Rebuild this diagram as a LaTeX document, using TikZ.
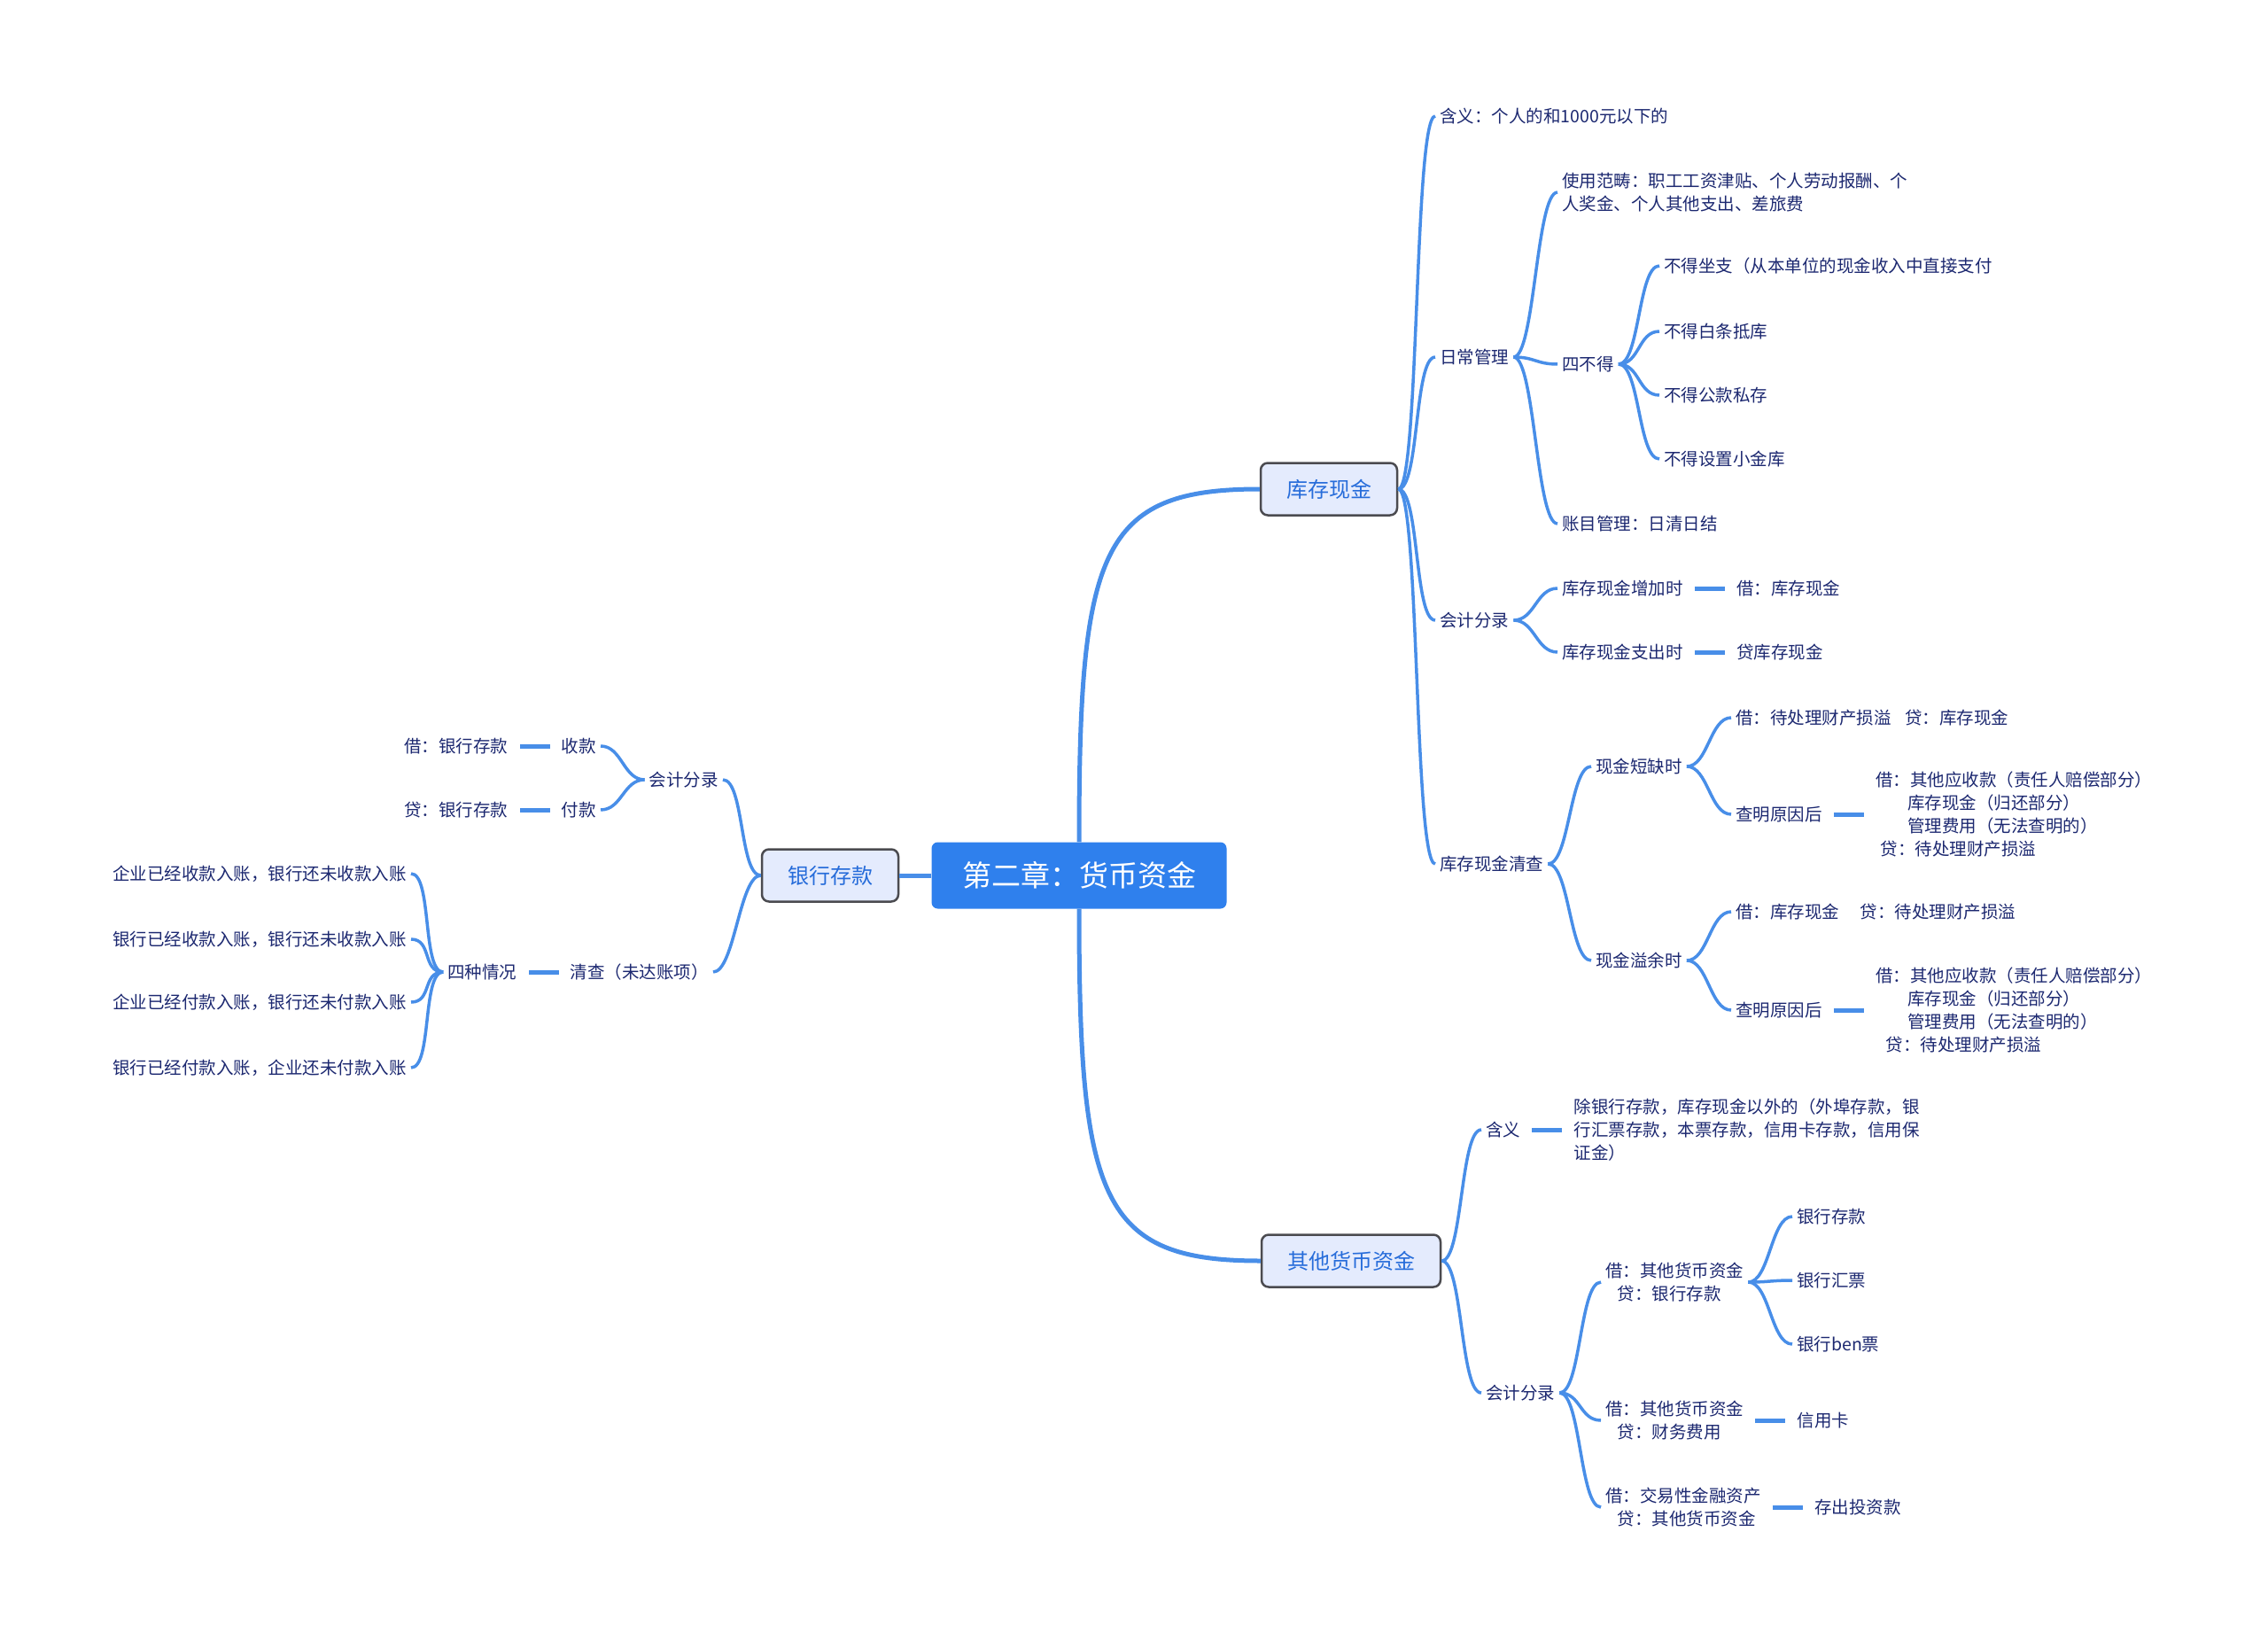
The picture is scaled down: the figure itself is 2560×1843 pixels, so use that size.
\documentclass[tikz,border=0pt]{standalone}
\usepackage{fontspec}
\newfontfamily\cjk{Noto Sans CJK SC}
\usetikzlibrary{positioning}

\definecolor{rootblue}{RGB}{47,128,237}
\definecolor{topicfill}{RGB}{228,235,253}
\definecolor{topicedge}{RGB}{75,75,80}
\definecolor{topictext}{RGB}{38,108,218}
\definecolor{linkblue}{RGB}{72,142,232}
\definecolor{leaftext}{RGB}{28,40,112}

\begin{document}
\begin{tikzpicture}[x=1pt,y=-1pt,node distance=50pt,
root node/.style={rectangle,rounded corners=7pt,fill=rootblue,text=white,font=\cjk\fontsize{33}{40}\selectfont,minimum width=333pt,minimum height=75pt},
topic node/.style={rectangle,rounded corners=8pt,draw=topicedge,line width=2.5pt,fill=topicfill,text=topictext,font=\cjk\fontsize{24}{29}\selectfont,minimum height=59pt,inner xsep=29pt},
leaf/.style={inner xsep=5pt,inner ysep=2pt,text=leaftext,font=\cjk\fontsize{19.5}{26}\selectfont,align=left},
trunk/.style={draw=linkblue,line width=5pt},
rb/.style={draw=linkblue,line width=3.5pt,to path={.. controls +(24,0) and +(-24,0) .. (\tikztotarget)}},
lb/.style={draw=linkblue,line width=3.5pt,to path={.. controls +(-24,0) and +(24,0) .. (\tikztotarget)}},
stub/.style={draw=linkblue,line width=5pt,shorten <=8pt,shorten >=8pt}]

\useasboundingbox (0,0) rectangle (2560,1843);

\node[root node] (root) at (1218,988) {第二章：货币资金};
\node[topic node] (kc) at (1500,552) {库存现金};
\node[topic node] (yh) at (937,988) {银行存款};
\node[topic node] (qt) at (1525,1423) {其他货币资金};

% 库存现金
\node[leaf,anchor=west] (hy) at (1620,131) {含义：个人的和1000元以下的};
\node[leaf,anchor=west] (rc) at (1620,403) {日常管理};
\node[leaf,anchor=west] (sy) at (1758,217) {使用范畴：职工工资津贴、个人劳动报酬、个\\人奖金、个人其他支出、差旅费};
\node[leaf,anchor=west] (sbd) at (1758,411) {四不得};
\node[leaf,anchor=west] (bd1) at (1873,300) {不得坐支（从本单位的现金收入中直接支付};
\node[leaf,anchor=west] (bd2) at (1873,374) {不得白条抵库};
\node[leaf,anchor=west] (bd3) at (1873,446) {不得公款私存};
\node[leaf,anchor=west] (bd4) at (1873,518) {不得设置小金库};
\node[leaf,anchor=west] (zm) at (1758,591) {账目管理：日清日结};
\node[leaf,anchor=west] (kj) at (1620,700) {会计分录};
\node[leaf,anchor=west] (zj) at (1758,664) {库存现金增加时};
\node[leaf,right=of zj] (zj2) {借：库存现金};
\node[leaf,anchor=west] (zc) at (1758,736) {库存现金支出时};
\node[leaf,right=of zc] (zc2) {贷库存现金};
\node[leaf,anchor=west] (qc) at (1620,975) {库存现金清查};
\node[leaf,anchor=west] (dq) at (1796,865) {现金短缺时};
\node[leaf,anchor=west] (dq1) at (1954,810) {借：待处理财产损溢\hspace{0.8em}贷：库存现金};
\node[leaf,anchor=west] (dq2) at (1954,919) {查明原因后};
\node[leaf,right=of dq2] (dq3) {借：其他应收款（责任人赔偿部分）\\\hspace*{1.85em}库存现金（归还部分）\\\hspace*{1.85em}管理费用（无法查明的）\\\hspace*{0.3em}贷：待处理财产损溢};
\node[leaf,anchor=west] (yy) at (1796,1084) {现金溢余时};
\node[leaf,anchor=west] (yy1) at (1954,1029) {借：库存现金\hspace{1.2em}贷：待处理财产损溢};
\node[leaf,anchor=west] (yy2) at (1954,1140) {查明原因后};
\node[leaf,right=of yy2] (yy3) {借：其他应收款（责任人赔偿部分）\\\hspace*{1.85em}库存现金（归还部分）\\\hspace*{1.85em}管理费用（无法查明的）\\\hspace*{0.6em}贷：待处理财产损溢};

% 其他货币资金
\node[leaf,anchor=west] (qhy) at (1672,1275) {含义};
\node[leaf,right=of qhy] (qhy2) {除银行存款，库存现金以外的（外埠存款，银\\行汇票存款，本票存款，信用卡存款，信用保\\证金）};
\node[leaf,anchor=west] (qkj) at (1672,1572) {会计分录};
\node[leaf,anchor=west] (fl1) at (1807,1447) {借：其他货币资金\\\hspace*{0.7em}贷：银行存款};
\node[leaf,anchor=west] (ck) at (2023,1373) {银行存款};
\node[leaf,anchor=west] (hp) at (2023,1445) {银行汇票};
\node[leaf,anchor=west] (bp) at (2023,1517) {银行ben票};
\node[leaf,anchor=west] (fl2) at (1807,1603) {借：其他货币资金\\\hspace*{0.7em}贷：财务费用};
\node[leaf,right=of fl2] (xyk) {信用卡};
\node[leaf,anchor=west] (fl3) at (1807,1701) {借：交易性金融资产\\\hspace*{0.7em}贷：其他货币资金};
\node[leaf,right=of fl3] (tz) {存出投资款};

% 银行存款
\node[leaf,anchor=east] (ykj) at (816,880) {会计分录};
\node[leaf,anchor=east] (sk) at (678,842) {收款};
\node[leaf,left=of sk] (sk2) {借：银行存款};
\node[leaf,anchor=east] (fk) at (678,914) {付款};
\node[leaf,left=of fk] (fk2) {贷：银行存款};
\node[leaf,anchor=east] (qcx) at (805,1097) {清查（未达账项）};
\node[leaf,left=of qcx] (szqk) {四种情况};
\node[leaf,anchor=east] (s1) at (464,986) {企业已经收款入账，银行还未收款入账};
\node[leaf,anchor=east] (s2) at (464,1060) {银行已经收款入账，银行还未收款入账};
\node[leaf,anchor=east] (s3) at (464,1131) {企业已经付款入账，银行还未付款入账};
\node[leaf,anchor=east] (s4) at (464,1205) {银行已经付款入账，企业还未付款入账};

\draw[trunk] (root.north) .. controls +(0,-330) and +(-180,0) .. (kc.west);
\draw[trunk] (root.south) .. controls +(0,330) and +(-180,0) .. (qt.west);
\draw[trunk] (root.west) -- (yh.east);

\path[rb] (kc.east) edge (hy.west) edge (rc.west) edge (kj.west) edge (qc.west);
\path[rb] (rc.east) edge (sy.west) edge (sbd.west) edge (zm.west);
\path[rb] (sbd.east) edge (bd1.west) edge (bd2.west) edge (bd3.west) edge (bd4.west);
\path[rb] (kj.east) edge (zj.west) edge (zc.west);
\path[rb] (qc.east) edge (dq.west) edge (yy.west);
\path[rb] (dq.east) edge (dq1.west) edge (dq2.west);
\path[rb] (yy.east) edge (yy1.west) edge (yy2.west);
\draw[stub] (zj.east) -- (zj2.west);
\draw[stub] (zc.east) -- (zc2.west);
\draw[stub] (dq2.east) -- (dq3.west);
\draw[stub] (yy2.east) -- (yy3.west);

\path[rb] (qt.east) edge (qhy.west) edge (qkj.west);
\draw[stub] (qhy.east) -- (qhy2.west);
\path[rb] (qkj.east) edge (fl1.west) edge (fl2.west) edge (fl3.west);
\path[rb] (fl1.east) edge (ck.west) edge (hp.west) edge (bp.west);
\draw[stub] (fl2.east) -- (xyk.west);
\draw[stub] (fl3.east) -- (tz.west);

\path[lb] (yh.west) edge (ykj.east) edge (qcx.east);
\path[lb] (ykj.west) edge (sk.east) edge (fk.east);
\draw[stub] (sk.west) -- (sk2.east);
\draw[stub] (fk.west) -- (fk2.east);
\draw[stub] (qcx.west) -- (szqk.east);
\path[lb] (szqk.west) edge (s1.east) edge (s2.east) edge (s3.east) edge (s4.east);

\end{tikzpicture}
\end{document}
